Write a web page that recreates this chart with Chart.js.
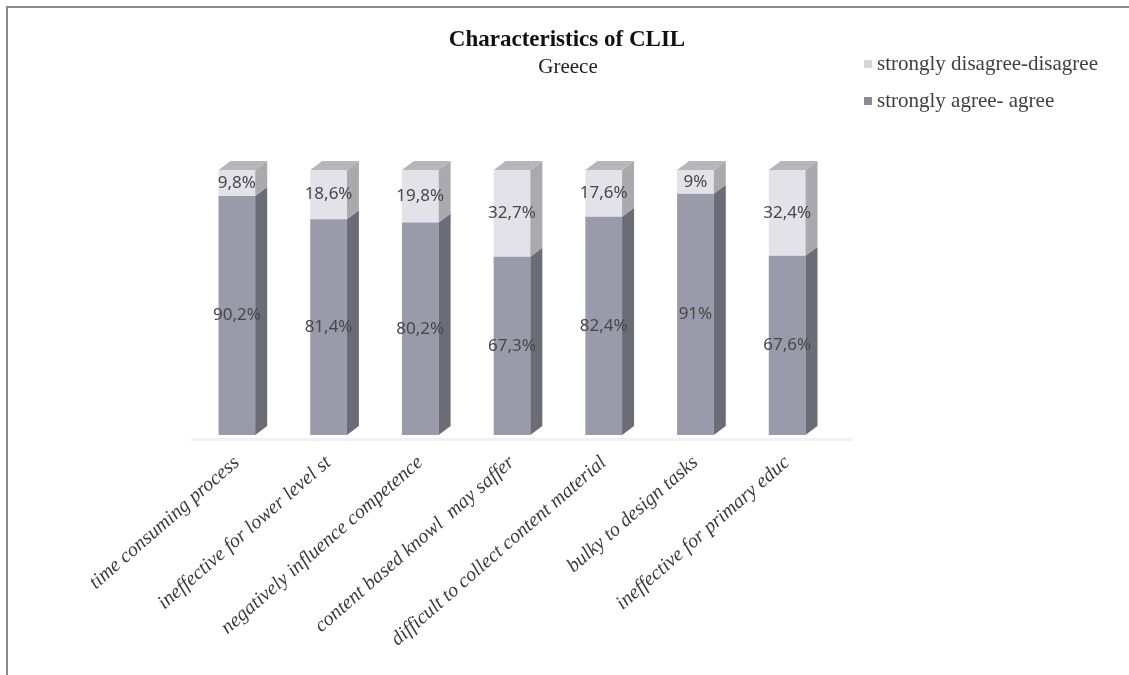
<!DOCTYPE html>
<html>
<head>
<meta charset="utf-8">
<script src="https://cdn.jsdelivr.net/npm/chart.js@4.4.1/dist/chart.umd.min.js"></script>
<style>
  html, body { margin: 0; padding: 0; background: #fff; }
  #wrap { position: relative; width: 1129px; height: 675px; overflow: hidden; }
  #frame { position: absolute; left: 6px; top: 6px; width: 1200px; height: 800px; border-top: 2px solid #8a8a8a; border-left: 2px solid #8a8a8a; pointer-events: none; }
</style>
</head>
<body>
<div id="wrap">
  <canvas id="chartClil"></canvas>
  <div id="frame"></div>
</div>
<script>
// data
var categories = [
    'time consuming process',
    'ineffective for lower level st',
    'negatively influence competence',
    'content based knowl  may saffer',
    'difficult to collect content material',
    'bulky to design tasks',
    'ineffective for primary educ'
];
var agreeValues = [90.2, 81.4, 80.2, 67.3, 82.4, 91, 67.6];
var disagreeValues = [9.8, 18.6, 19.8, 32.7, 17.6, 9, 32.4];
var seriesNames = ['strongly agree- agree', 'strongly disagree-disagree'];

// warna: depan, samping, atas
var frontColors = ['#9a9aab', '#e2e2e8'];
var sideColors = ['#6c6c76', '#a9a9ae'];
var capColors = ['#84848e', '#b6b6b9'];
var legendColors = ['#8c8c98', '#d6d6da'];
var DEPTH_X = 12, DEPTH_Y = -9;

function fmtPct(v) {
    return v.toString().replace('.', ',') + '%';
}

// plugin untuk efek 3D, label data, judul dan legenda
var bar3dPlugin = {
    id: 'bar3d',
    beforeDatasetsDraw: function(chart) {
        const ctx = chart.ctx;
        const area = chart.chartArea;
        // lantai tipis
        ctx.save();
        ctx.fillStyle = '#f1f1f3';
        ctx.fillRect(area.left, area.bottom + 3, area.right - area.left + DEPTH_X + 8, 3);
        ctx.restore();
    },
    afterDatasetsDraw: function(chart) {
        const ctx = chart.ctx;
        const n = chart.data.datasets.length;
        ctx.save();
        chart.data.datasets.forEach((ds, di) => {
            const meta = chart.getDatasetMeta(di);
            meta.data.forEach(bar => {
                const p = bar.getProps(['x', 'y', 'base', 'width'], true);
                const right = p.x + p.width / 2;
                const left = p.x - p.width / 2;
                // sisi kanan
                ctx.fillStyle = sideColors[di];
                ctx.beginPath();
                ctx.moveTo(right, p.y);
                ctx.lineTo(right + DEPTH_X, p.y + DEPTH_Y);
                ctx.lineTo(right + DEPTH_X, p.base + DEPTH_Y);
                ctx.lineTo(right, p.base);
                ctx.closePath();
                ctx.fill();
                // tutup atas hanya untuk segmen paling atas
                if (di === n - 1) {
                    ctx.fillStyle = capColors[di];
                    ctx.beginPath();
                    ctx.moveTo(left, p.y);
                    ctx.lineTo(left + DEPTH_X, p.y + DEPTH_Y);
                    ctx.lineTo(right + DEPTH_X, p.y + DEPTH_Y);
                    ctx.lineTo(right, p.y);
                    ctx.closePath();
                    ctx.fill();
                }
            });
        });

        // label persentase
        ctx.font = '17px "Noto Sans", "Open Sans", sans-serif';
        ctx.fillStyle = '#474747';
        ctx.textAlign = 'center';
        ctx.textBaseline = 'middle';
        chart.data.datasets.forEach((ds, di) => {
            const meta = chart.getDatasetMeta(di);
            meta.data.forEach((bar, i) => {
                const p = bar.getProps(['x', 'y', 'base'], true);
                ctx.fillText(fmtPct(ds.data[i]), p.x, (p.y + p.base) / 2);
            });
        });
        ctx.restore();
    },
    afterDraw: function(chart) {
        const ctx = chart.ctx;
        ctx.save();
        // judul
        ctx.fillStyle = '#111';
        ctx.textAlign = 'center';
        ctx.textBaseline = 'middle';
        ctx.font = 'bold 23px "Liberation Serif", serif';
        ctx.fillText('Characteristics of CLIL', 567, 40);
        ctx.font = '21px "Liberation Serif", serif';
        ctx.fillStyle = '#222';
        ctx.fillText('Greece', 568, 67);

        // legenda (urutan terbalik)
        ctx.font = '21px "Liberation Serif", serif';
        ctx.textAlign = 'left';
        const order = [1, 0];
        order.forEach((di, k) => {
            const y = 64 + k * 37;
            ctx.fillStyle = legendColors[di];
            ctx.fillRect(864, y - 4, 8, 8);
            ctx.fillStyle = '#404040';
            ctx.fillText(chart.data.datasets[di].label, 877, y);
        });
        ctx.restore();
    }
};

var ctxClil = document.getElementById('chartClil').getContext('2d');
var chartClil = new Chart(ctxClil, {
    type: 'bar',
    data: {
        labels: categories,
        datasets: [
            {
                label: seriesNames[0],
                data: agreeValues,
                backgroundColor: frontColors[0],
                categoryPercentage: 1,
                barPercentage: 0.4
            },
            {
                label: seriesNames[1],
                data: disagreeValues,
                backgroundColor: frontColors[1],
                categoryPercentage: 1,
                barPercentage: 0.4
            }
        ]
    },
    plugins: [bar3dPlugin],
    options: {
        responsive: true,
        maintainAspectRatio: false,
        animation: false,
        layout: { padding: { left: 191, right: 296, top: 170, bottom: 10 } },
        plugins: {
            legend: { display: false },
            title: { display: false },
            tooltip: { enabled: false }
        },
        scales: {
            x: {
                stacked: true,
                grid: { display: false, drawTicks: false },
                border: { display: false },
                afterFit: function(scale) { scale.height = 230; },
                ticks: {
                    autoSkip: false,
                    minRotation: 41,
                    maxRotation: 41,
                    padding: 16,
                    color: '#3a3a3a',
                    font: { family: '"Liberation Serif", serif', style: 'italic', size: 20 }
                }
            },
            y: {
                stacked: true,
                display: false,
                min: 0,
                max: 100
            }
        }
    }
});
</script>
</body>
</html>
